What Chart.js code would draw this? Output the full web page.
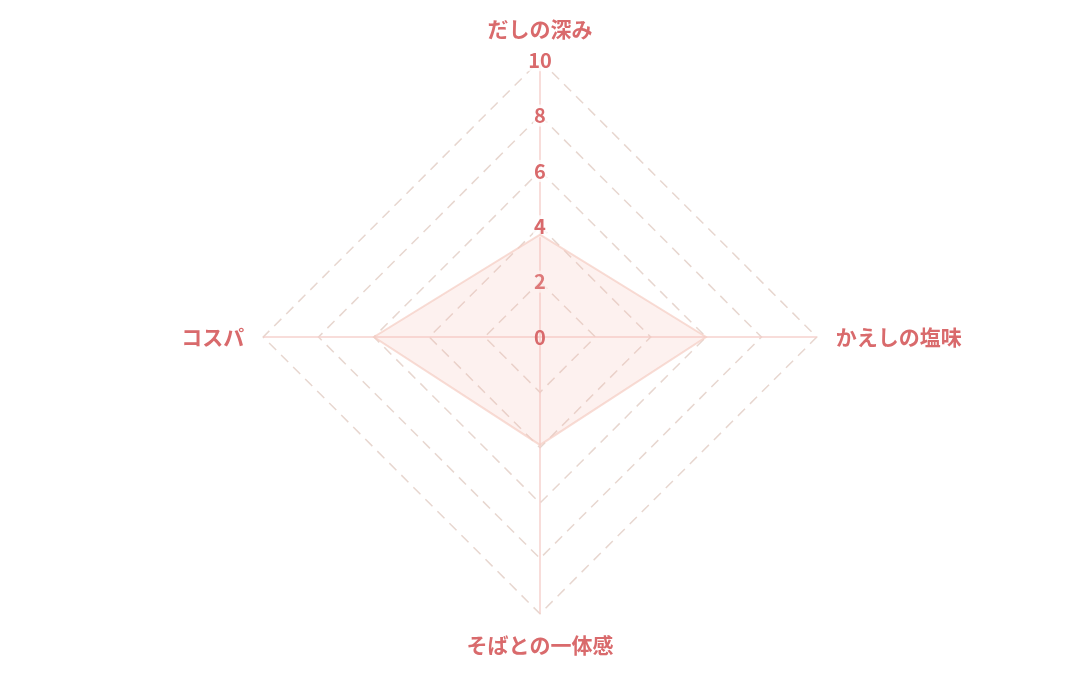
<!DOCTYPE html>
<html lang="ja">
<head>
  <meta charset="utf-8">
  <title>そば レーダーチャート</title>
  <script src="https://cdn.jsdelivr.net/npm/chart.js@4"></script>
  <style>
    html, body { margin: 0; padding: 0; background: #fff; }
    .wrapper { width: 1080px; height: 675px; }
  </style>
</head>
<body>
  <div class="wrapper">
    <canvas id="chart-0"></canvas>
  </div>

  <script>
    let labels = ['だしの深み', 'かえしの塩味', 'そばとの一体感', 'コスパ'];
    let scores = [3.7, 6, 3.9, 6];
    let tickValues = [0, 2, 4, 6, 8, 10];

    let red = '#d96a6c';
    let fontFamily = '"Noto Sans CJK JP", "Noto Sans", sans-serif';
    let tickFont = { family: fontFamily, size: 20, weight: 'bold' };

    // Chart.js skips the label of the first tick on a radial scale, draw "0" ourselves
    let zeroLabel = {
      id: 'zeroLabel',
      afterDatasetsDraw(chart) {
        let scale = chart.scales.r;
        let ctx = chart.ctx;
        let pos = scale.getPointPositionForValue(0, tickValues[0]);
        ctx.save();
        ctx.font = tickFont.weight + ' ' + tickFont.size + 'px ' + tickFont.family;
        ctx.fillStyle = red;
        ctx.textAlign = 'center';
        ctx.textBaseline = 'middle';
        ctx.fillText(String(tickValues[0]), pos.x, pos.y);
        ctx.restore();
      }
    };

    let chart = new Chart('chart-0', {
      type: 'radar',
      data: {
        labels: labels,
        datasets: [{
          label: '評価',
          data: scores,
          backgroundColor: 'rgba(245, 185, 175, 0.2)',
          borderColor: 'rgba(245, 205, 195, 0.7)',
          borderWidth: 2,
          pointRadius: 0
        }]
      },
      options: {
        responsive: true,
        maintainAspectRatio: false,
        animation: false,
        layout: {
          padding: { top: 16, bottom: 16 }
        },
        plugins: {
          legend: { display: false },
          tooltip: { enabled: false }
        },
        scales: {
          r: {
            min: 0,
            max: 10,
            afterBuildTicks: function(scale) {
              scale.ticks = tickValues.map(v => ({ value: v }));
            },
            ticks: {
              color: red,
              font: tickFont,
              backdropColor: 'rgba(255, 255, 255, 0.8)',
              backdropPadding: 1
            },
            grid: {
              color: 'rgba(228, 210, 202, 0.9)',
              lineWidth: 1.5
            },
            border: {
              dash: [10, 7]
            },
            angleLines: {
              color: 'rgba(245, 205, 200, 0.9)',
              lineWidth: 1.5
            },
            pointLabels: {
              color: red,
              font: { family: fontFamily, size: 21, weight: 'bold' },
              padding: 8
            }
          }
        }
      },
      plugins: [zeroLabel]
    });
  </script>
</body>
</html>
